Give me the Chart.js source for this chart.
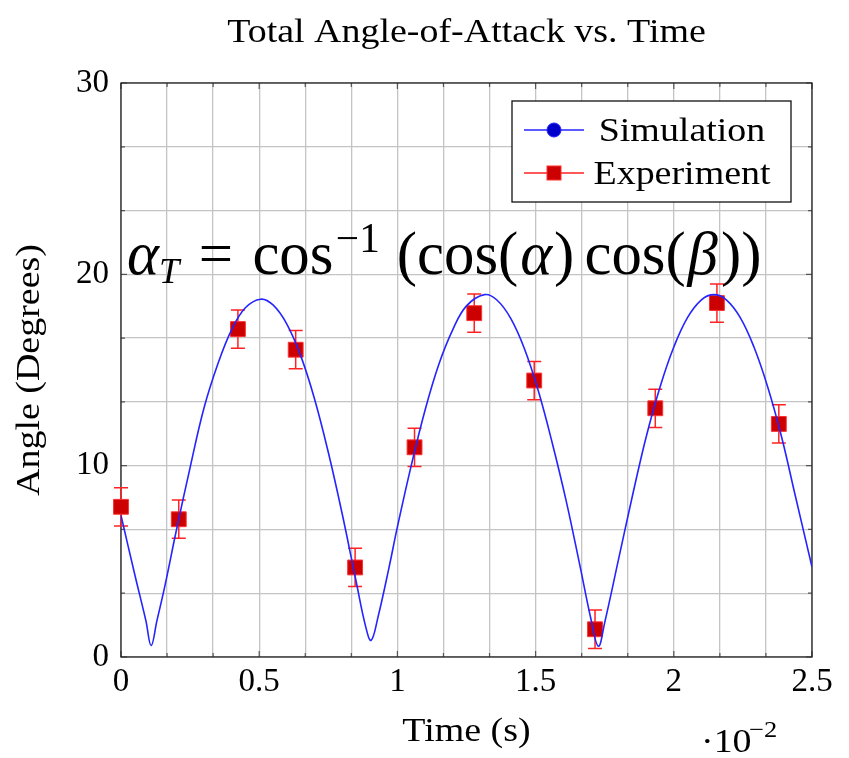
<!DOCTYPE html>
<html>
<head>
<meta charset="utf-8">
<script src="https://cdn.jsdelivr.net/npm/chart.js@4.4.1/dist/chart.umd.min.js"></script>
<style>
    html, body { margin: 0; padding: 0; background: #fff; }
</style>
</head>
<body>
<canvas id="aoaChart" width="849" height="758"></canvas>
<script>
// ================= DATA =================
// time in units of 1e-2 s, angle in degrees
const simTime = [0, 0.05, 0.09, 0.109, 0.13, 0.16, 0.2, 0.25, 0.3, 0.35, 0.4, 0.45, 0.505,
    0.55, 0.6, 0.65, 0.7, 0.75, 0.8, 0.85, 0.885, 0.905, 0.93, 0.97, 1.0, 1.05, 1.1, 1.15, 1.2, 1.25, 1.315,
    1.36, 1.41, 1.46, 1.51, 1.56, 1.61, 1.66, 1.7, 1.727, 1.75, 1.8, 1.85, 1.9, 1.95, 2.0, 2.05, 2.1, 2.145,
    2.19, 2.24, 2.29, 2.34, 2.39, 2.44, 2.5];
const simAngle = [7.4, 4.3, 1.9, 0.6, 1.9, 3.8, 6.6, 9.9, 13.0, 15.3, 17.1, 18.25, 18.7,
    18.4, 17.4, 15.75, 13.5, 10.7, 7.5, 4.0, 1.6, 0.87, 2.1, 4.7, 6.8, 10.0, 12.9, 15.3, 17.1, 18.35, 18.94,
    18.66, 17.7, 16.1, 13.9, 11.2, 8.2, 4.8, 2.0, 0.56, 1.8, 5.1, 8.4, 11.5, 14.1, 16.2, 17.75, 18.67, 18.94,
    18.67, 17.75, 16.2, 14.1, 11.5, 8.4, 4.7];

const expTime = [0, 0.209, 0.423, 0.632, 0.847, 1.062, 1.278, 1.495, 1.715, 1.933, 2.156, 2.38];
const expAngle = [7.85, 7.2, 17.14, 16.06, 4.68, 10.96, 17.97, 14.45, 1.45, 13.0, 18.5, 12.18];
const expError = [1, 1, 1, 1, 1, 1, 1, 1, 1, 1, 1, 1];

const xTickLabels = [0, 0.5, 1, 1.5, 2, 2.5];
const yTickLabels = [0, 10, 20, 30];

const chartTitle = "Total Angle-of-Attack vs. Time";
const xTitle = "Time (s)";
const yTitle = "Angle (Degrees)";

const serif = "'Liberation Serif', 'Times New Roman', serif";
const stretch = 1.15; // Times is narrower than the TeX font of the original

// ================= HELPERS =================
function withMinorTicks(majors) {
    let out = [];
    for (let i = 0; i < majors.length; i++) {
        out.push({ value: majors[i] });
        if (i < majors.length - 1) {
            let step = (majors[i + 1] - majors[i]) / 3;
            out.push({ value: majors[i] + step });
            out.push({ value: majors[i] + 2 * step });
        }
    }
    return out;
}

function isMajor(value, list) {
    return list.some(v => Math.abs(v - value) < 1e-6);
}

function wideText(ctx, text, x, y, size, align, rotate) {
    ctx.save();
    ctx.translate(x, y);
    if (rotate) ctx.rotate(rotate);
    ctx.scale(stretch, 1);
    ctx.font = size + "px " + serif;
    ctx.textAlign = align;
    ctx.fillText(text, 0, 0);
    ctx.restore();
}

// formula pieces: text, relative size, baseline shift (em), italic, gap before (em)
function drawFormula(ctx, left, base, width) {
    let parts = [
        ["α", 1, 0, true, 0],
        ["T", 0.6, 0.14, true, 0],
        ["=", 1, 0, false, 0.32],
        ["cos", 1, 0, false, 0.32],
        ["−1", 0.68, -0.36, false, 0.04],
        ["(cos(", 1, 0, false, 0.28],
        ["α", 1, 0, true, 0.03],
        [")", 1, 0, false, 0.03],
        ["cos(", 1, 0, false, 0.17],
        ["β", 1, 0, true, 0.03],
        ["))", 1, 0, false, 0.05]
    ];
    let fontFor = (p, size) => (p[3] ? "italic " : "") + (size * p[1]).toFixed(1) + "px " + serif;
    let base0 = 60, total = 0;
    parts.forEach(p => {
        ctx.font = fontFor(p, base0);
        total += ctx.measureText(p[0]).width + p[4] * base0;
    });
    let size = base0 * width / total;
    let x = left;
    ctx.fillStyle = "#000";
    ctx.textAlign = "left";
    ctx.textBaseline = "alphabetic";
    parts.forEach(p => {
        x += p[4] * size;
        ctx.font = fontFor(p, size);
        ctx.fillText(p[0], x, base + p[2] * size);
        x += ctx.measureText(p[0]).width;
    });
}

// ================= PLUGINS =================
const frameAndErrors = {
    id: "frameAndErrors",
    beforeDatasetsDraw(chart) {
        const { ctx, chartArea: a, scales } = chart;
        ctx.save();

        // inward tick marks
        ctx.strokeStyle = "#555";
        ctx.lineWidth = 1.2;
        scales.x.ticks.forEach(t => {
            let px = scales.x.getPixelForValue(t.value);
            let len = isMajor(t.value, xTickLabels) ? 6 : 4;
            ctx.beginPath();
            ctx.moveTo(px, a.bottom); ctx.lineTo(px, a.bottom - len);
            ctx.moveTo(px, a.top); ctx.lineTo(px, a.top + len);
            ctx.stroke();
        });
        scales.y.ticks.forEach(t => {
            let py = scales.y.getPixelForValue(t.value);
            let len = isMajor(t.value, yTickLabels) ? 6 : 4;
            ctx.beginPath();
            ctx.moveTo(a.left, py); ctx.lineTo(a.left + len, py);
            ctx.moveTo(a.right, py); ctx.lineTo(a.right - len, py);
            ctx.stroke();
        });

        // frame
        ctx.strokeStyle = "#222";
        ctx.lineWidth = 1.3;
        ctx.strokeRect(a.left, a.top, a.right - a.left, a.bottom - a.top);

        // error bars
        ctx.strokeStyle = "#ff2222";
        ctx.lineWidth = 1.5;
        expTime.forEach((t, i) => {
            let px = scales.x.getPixelForValue(t);
            let top = scales.y.getPixelForValue(expAngle[i] + expError[i]);
            let bot = scales.y.getPixelForValue(expAngle[i] - expError[i]);
            ctx.beginPath();
            ctx.moveTo(px, top); ctx.lineTo(px, bot);
            ctx.moveTo(px - 7, top); ctx.lineTo(px + 7, top);
            ctx.moveTo(px - 7, bot); ctx.lineTo(px + 7, bot);
            ctx.stroke();
        });
        ctx.restore();
    },
    afterDraw(chart) {
        const { ctx, chartArea: a, data } = chart;
        let cx = (a.left + a.right) / 2;
        ctx.save();
        ctx.fillStyle = "#000";
        ctx.textBaseline = "alphabetic";

        // titles
        wideText(ctx, chartTitle, cx, 42, 33, "center");
        wideText(ctx, xTitle, cx, 741, 33, "center");
        wideText(ctx, yTitle, 39, (a.top + a.bottom) / 2, 33, "center", -Math.PI / 2);

        // scale factor under the x axis
        wideText(ctx, "·10", a.right - 111, 752, 33, "left");
        wideText(ctx, "−2", a.right - 63, 737, 23, "left");

        // formula
        drawFormula(ctx, a.left + 6, a.top + 191, 634);

        // legend
        let bx = a.right - 300, by = a.top + 18, bw = 279, bh = 101;
        ctx.fillStyle = "#fff";
        ctx.fillRect(bx, by, bw, bh);
        ctx.strokeStyle = "#111";
        ctx.lineWidth = 1.3;
        ctx.strokeRect(bx, by, bw, bh);

        data.datasets.forEach((ds, i) => {
            let cy = by + 29 + i * 43;
            ctx.strokeStyle = ds.legendLine;
            ctx.lineWidth = 1.5;
            ctx.beginPath();
            ctx.moveTo(bx + 12, cy); ctx.lineTo(bx + 72, cy);
            ctx.stroke();
            ctx.fillStyle = ds.backgroundColor;
            ctx.strokeStyle = ds.borderColor;
            ctx.lineWidth = 1;
            if (ds.pointStyle === "rect") {
                ctx.fillRect(bx + 35, cy - 7, 14, 14);
                ctx.strokeRect(bx + 35, cy - 7, 14, 14);
            } else {
                ctx.beginPath();
                ctx.arc(bx + 42, cy, 7, 0, Math.PI * 2);
                ctx.fill();
                ctx.stroke();
            }
            ctx.fillStyle = "#000";
            wideText(ctx, ds.label, bx + 170, cy + 11, 33, "center");
        });
        ctx.restore();
    }
};

// ================= CHART =================
new Chart(document.getElementById("aoaChart"), {
    type: "line",
    data: {
        datasets: [
            {
                label: "Simulation",
                data: simTime.map((t, i) => ({ x: t, y: simAngle[i] })),
                borderColor: "#2424ff",
                backgroundColor: "#0000cc",
                legendLine: "#2424ff",
                borderWidth: 1.6,
                pointRadius: 0,
                pointStyle: "circle",
                tension: 0.4,
                fill: false
            },
            {
                label: "Experiment",
                data: expTime.map((t, i) => ({ x: t, y: expAngle[i] })),
                showLine: false,
                borderColor: "#ff3030",
                backgroundColor: "#cc0000",
                legendLine: "#ff2222",
                pointStyle: "rect",
                pointRadius: 10.5,
                pointBorderWidth: 1,
                clip: false
            }
        ]
    },
    options: {
        responsive: false,
        animation: false,
        devicePixelRatio: 1,
        layout: { padding: { left: 0, right: 37, top: 83, bottom: 0 } },
        plugins: {
            legend: { display: false },
            tooltip: { enabled: false },
            title: { display: false }
        },
        scales: {
            x: {
                type: "linear",
                min: 0,
                max: 2.5,
                afterBuildTicks: scale => { scale.ticks = withMinorTicks(xTickLabels); },
                afterFit: scale => { scale.height = 101; },
                grid: { color: "#c4c4c4", lineWidth: 1.3, drawTicks: false },
                border: { display: false },
                ticks: {
                    autoSkip: false,
                    maxRotation: 0,
                    padding: 6,
                    color: "#000",
                    font: { family: serif, size: 33 },
                    callback: v => isMajor(v, xTickLabels) ? String(Math.round(v * 10) / 10) : ""
                }
            },
            y: {
                min: 0,
                max: 30,
                afterBuildTicks: scale => { scale.ticks = withMinorTicks(yTickLabels); },
                afterFit: scale => { scale.width = 121; },
                grid: { color: "#c4c4c4", lineWidth: 1.3, drawTicks: false },
                border: { display: false },
                ticks: {
                    autoSkip: false,
                    padding: 12,
                    color: "#000",
                    font: { family: serif, size: 33 },
                    callback: v => isMajor(v, yTickLabels) ? String(Math.round(v)) : ""
                }
            }
        }
    },
    plugins: [frameAndErrors]
});
</script>
</body>
</html>
